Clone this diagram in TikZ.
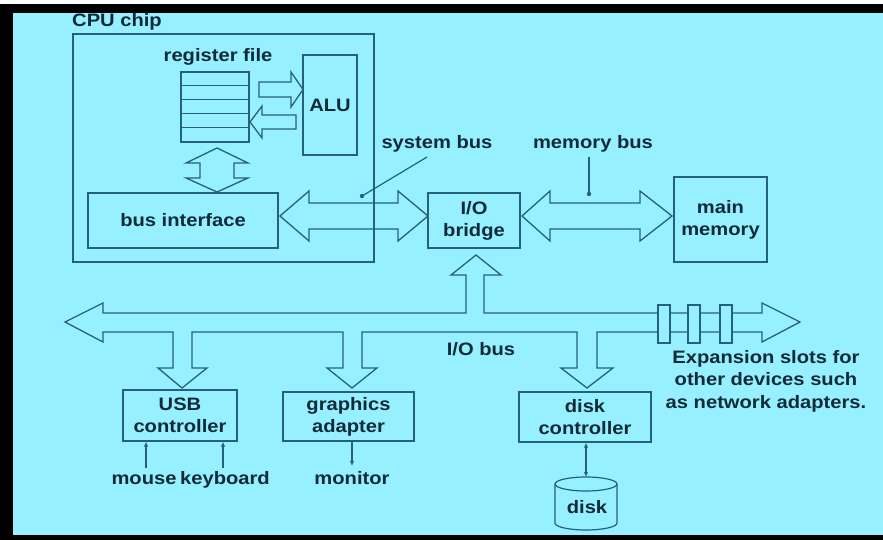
\documentclass[tikz,border=0pt]{standalone}
\usepackage{fontspec}
\setmainfont{Liberation Sans}[FakeStretch=1.12]
\usetikzlibrary{arrows.meta,calc}
\definecolor{bg}{RGB}{150,240,255}
\definecolor{ln}{RGB}{38,98,118}
\definecolor{tx}{RGB}{16,42,56}
\tikzset{
  lbl/.style={text=tx, font=\fontsize{18}{22}\selectfont\bfseries, inner sep=0pt},
  blk/.style={draw=ln, line width=1.3pt, lbl, align=center},
  bigarrow/.style={draw=ln, line width=1.3pt, line join=miter},
  thinline/.style={draw=ln, line width=1.2pt},
  ptr/.style={thinline, -{Latex[length=5pt,width=4.5pt]}},
  dptr/.style={thinline, {Latex[length=5pt,width=4.5pt]}-{Latex[length=5pt,width=4.5pt]}},
}
\begin{document}
\begin{tikzpicture}[x=1pt,y=-1pt]
% background and frame
\fill[white] (0,0) rectangle (883,540);
\fill[black] (0,4) rectangle (883,540);
\fill[bg] (13,13) rectangle (883,535);
\useasboundingbox (0,0) rectangle (883,540);

% CPU chip
\node[lbl, anchor=base west] (cputxt) at (72,27) {CPU chip};
\node[blk, minimum width=301, minimum height=228] (cpu) at (223.5,148) {};

% register file
\node[lbl, anchor=base] (regtxt) at (218,62) {register file};
\node[blk, minimum width=68, minimum height=70] (reg) at (215,107) {};
\foreach \i in {1,...,4}
  \draw[thinline] ([yshift=-14*\i pt]reg.north west) -- ([yshift=-14*\i pt]reg.north east);

% ALU
\node[blk, minimum width=54, minimum height=100] (alu) at (330,105) {ALU};

% arrows register file <-> ALU
\draw[bigarrow] (259,82) -- (291,82) -- (291,72) -- (303,89.5) -- (291,107) -- (291,97) -- (259,97) -- cycle;
\draw[bigarrow] (296,115) -- (262,115) -- (262,106) -- (250,122) -- (262,138) -- (262,129) -- (296,129) -- cycle;

% register file <-> bus interface
\draw[bigarrow] (217,148) -- (248,163) -- (234,163) -- (234,178) -- (248,178) -- (217,192)
  -- (186,178) -- (200,178) -- (200,163) -- (186,163) -- cycle;

% bus interface
\node[blk, minimum width=190, minimum height=55] (busif) at (183,220.5) {bus interface};

% I/O bridge and main memory
\node[blk, minimum width=92, minimum height=55] (bridge) at (474,220.5) {I/O\\bridge};
\node[blk, minimum width=93, minimum height=85] (mem) at (720.5,219.5) {main\\memory};

% system bus
\draw[bigarrow] (280,216) -- (309,191) -- (309,203) -- (398,203) -- (398,191) -- (428,216)
  -- (398,241) -- (398,229) -- (309,229) -- (309,241) -- cycle;
% memory bus
\draw[bigarrow] (522,216) -- (550,191) -- (550,203) -- (640,203) -- (640,191) -- (672,216)
  -- (640,241) -- (640,229) -- (550,229) -- (550,241) -- cycle;

% bus labels
\node[lbl, anchor=base] (sysbus) at (437,149) {system bus};
\coordinate (sbstart) at (427,157);
\coordinate (sbdot) at (362,196);
\draw[thinline] (sbstart) -- (sbdot);
\fill[ln] (sbdot) circle (2.2pt);
\node[lbl, anchor=base] (membus) at (593,149) {memory bus};
\coordinate (mbstart) at (589,157);
\coordinate (mbdot) at (589,194);
\draw[thinline] (mbstart) -- (mbdot);
\fill[ln] (mbdot) circle (2.2pt);

% I/O bus
\draw[bigarrow] (65,322) -- (103,303) -- (103,313) -- (466,313) -- (466,275) -- (451,275)
  -- (476,255) -- (501,275) -- (484,275) -- (484,313) -- (762,313) -- (762,303) -- (800,322)
  -- (762,342) -- (762,332) -- (597,332) -- (597,368) -- (613,368) -- (587,388) -- (561,368)
  -- (577,368) -- (577,332) -- (362,332) -- (362,368) -- (377,368) -- (352,388) -- (327,368)
  -- (343,368) -- (343,332) -- (192,332) -- (192,368) -- (207,368) -- (182,388) -- (158,368)
  -- (173,368) -- (173,332) -- (103,332) -- (103,342) -- cycle;
\foreach \sx in {658,688,720}
  \draw[thinline, fill=bg] (\sx,305) rectangle (\sx+12,343);
\node[lbl, anchor=base] (iobus) at (481,355) {I/O bus};
\node[lbl, align=center, font=\fontsize{18}{22.5}\selectfont\bfseries] (exp) at (766,381)
  {Expansion slots for\\other devices such\\as network adapters.};

% devices
\node[blk, minimum width=114, minimum height=51] (usb) at (180,415.5) {USB\\controller};
\node[blk, minimum width=131, minimum height=49] (gfx) at (348.5,416.5) {graphics\\adapter};
\node[blk, minimum width=132, minimum height=50] (dctl) at (585,417) {disk\\controller};

% peripherals
\coordinate (yin) at (0,468);
\coordinate (yout) at (0,466);
\node[lbl, anchor=base] (mouse) at (144,484) {mouse};
\node[lbl, anchor=base] (kbd) at (225,484) {keyboard};
\draw[ptr] ([xshift=2pt]mouse.north |- yin) -- ([xshift=2pt]mouse.north |- usb.south);
\draw[ptr] ([xshift=-2pt]kbd.north |- yin) -- ([xshift=-2pt]kbd.north |- usb.south);
\node[lbl, anchor=base] (mon) at (352,484) {monitor};
\draw[ptr] (mon.north |- gfx.south) -- (mon.north |- yout);

% disk
\coordinate (disktop) at (586,477);
\draw[thinline, fill=bg] (555,484) -- (555,523) arc[start angle=180, end angle=360, x radius=31pt, y radius=7pt] -- (617,484);
\draw[thinline] (586,484) ellipse [x radius=31pt, y radius=7pt];
\node[lbl, anchor=base] (disk) at (587,513) {disk};
\draw[dptr] (dctl.south -| disktop) -- (disktop);
\end{tikzpicture}
\end{document}
